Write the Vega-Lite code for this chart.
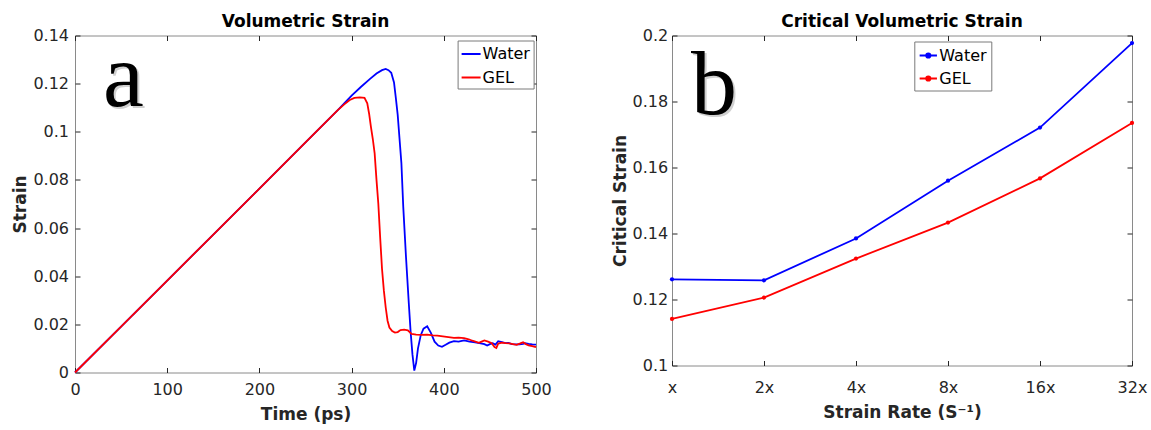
{
  "$schema": "https://vega.github.io/schema/vega-lite/v6.json",
  "background": "white",
  "padding": {"left": 11, "top": 11.5, "right": 0, "bottom": 0},
  "spacing": 58,
  "config": {
    "view": {"stroke": "#8a8a8a", "strokeWidth": 1},
    "font": "DejaVu Sans",
    "axis": {
      "grid": false, "domain": false, "ticks": true, "tickSize": -5, "tickColor": "#262626", "tickWidth": 1,
      "labelFont": "DejaVu Sans", "labelFontSize": 16, "labelColor": "#262626", "labelFlush": false, "labelOverlap": false,
      "titleFont": "DejaVu Sans", "titleFontSize": 17, "titleFontWeight": "bold", "titleColor": "#262626"
    },
    "title": {"font": "DejaVu Sans", "fontSize": 17, "fontWeight": "bold", "color": "#000000", "baseline": "alphabetic", "offset": -3, "anchor": "middle"},
    "legend": {"labelFont": "DejaVu Sans", "labelFontSize": 16, "labelColor": "#000000", "fillColor": "white", "strokeColor": "#7a7a7a", "title": null, "labelOffset": 1}
  },
  "resolve": {"scale": {"color": "independent"}, "legend": {"color": "independent"}},
  "hconcat": [
    {
      "width": 461,
      "height": 337,
      "title": "Volumetric Strain",
      "resolve": {"axis": {"x": "independent", "y": "independent"}},
      "layer": [
        {
          "data": {"values": [
            {"series": "Water", "time": 0, "strain": 0},
            {"series": "Water", "time": 50, "strain": 0.0191},
            {"series": "Water", "time": 100, "strain": 0.0382},
            {"series": "Water", "time": 150, "strain": 0.0573},
            {"series": "Water", "time": 200, "strain": 0.0764},
            {"series": "Water", "time": 250, "strain": 0.0956},
            {"series": "Water", "time": 285, "strain": 0.1090},
            {"series": "Water", "time": 292, "strain": 0.1118},
            {"series": "Water", "time": 300, "strain": 0.1150},
            {"series": "Water", "time": 310, "strain": 0.1186},
            {"series": "Water", "time": 320, "strain": 0.1220},
            {"series": "Water", "time": 327, "strain": 0.1242},
            {"series": "Water", "time": 333, "strain": 0.1256},
            {"series": "Water", "time": 337, "strain": 0.1261},
            {"series": "Water", "time": 340, "strain": 0.1256},
            {"series": "Water", "time": 343, "strain": 0.1245},
            {"series": "Water", "time": 346, "strain": 0.1205},
            {"series": "Water", "time": 348, "strain": 0.1140},
            {"series": "Water", "time": 350, "strain": 0.1070},
            {"series": "Water", "time": 352, "strain": 0.0970},
            {"series": "Water", "time": 354, "strain": 0.0870},
            {"series": "Water", "time": 356, "strain": 0.0690},
            {"series": "Water", "time": 359, "strain": 0.0480},
            {"series": "Water", "time": 362, "strain": 0.0290},
            {"series": "Water", "time": 364, "strain": 0.0170},
            {"series": "Water", "time": 366, "strain": 0.0075},
            {"series": "Water", "time": 368, "strain": 0.0008},
            {"series": "Water", "time": 370, "strain": 0.0040},
            {"series": "Water", "time": 372, "strain": 0.0100},
            {"series": "Water", "time": 375, "strain": 0.0155},
            {"series": "Water", "time": 378, "strain": 0.0182},
            {"series": "Water", "time": 382, "strain": 0.0192},
            {"series": "Water", "time": 386, "strain": 0.0165},
            {"series": "Water", "time": 390, "strain": 0.0128},
            {"series": "Water", "time": 394, "strain": 0.0112},
            {"series": "Water", "time": 398, "strain": 0.0107},
            {"series": "Water", "time": 402, "strain": 0.0115},
            {"series": "Water", "time": 406, "strain": 0.0124},
            {"series": "Water", "time": 411, "strain": 0.0130},
            {"series": "Water", "time": 416, "strain": 0.0128},
            {"series": "Water", "time": 422, "strain": 0.0133},
            {"series": "Water", "time": 428, "strain": 0.0128},
            {"series": "Water", "time": 434, "strain": 0.0125},
            {"series": "Water", "time": 440, "strain": 0.0121},
            {"series": "Water", "time": 444, "strain": 0.0118},
            {"series": "Water", "time": 447, "strain": 0.0112},
            {"series": "Water", "time": 450, "strain": 0.0118},
            {"series": "Water", "time": 453, "strain": 0.0122},
            {"series": "Water", "time": 456, "strain": 0.0116},
            {"series": "Water", "time": 459, "strain": 0.0130},
            {"series": "Water", "time": 463, "strain": 0.0126},
            {"series": "Water", "time": 467, "strain": 0.0122},
            {"series": "Water", "time": 470, "strain": 0.0123},
            {"series": "Water", "time": 474, "strain": 0.0118},
            {"series": "Water", "time": 478, "strain": 0.0117},
            {"series": "Water", "time": 482, "strain": 0.0117},
            {"series": "Water", "time": 486, "strain": 0.0119},
            {"series": "Water", "time": 488, "strain": 0.0122},
            {"series": "Water", "time": 492, "strain": 0.0119},
            {"series": "Water", "time": 496, "strain": 0.0117},
            {"series": "Water", "time": 500, "strain": 0.0116},
            {"series": "GEL", "time": 0, "strain": 0},
            {"series": "GEL", "time": 50, "strain": 0.0191},
            {"series": "GEL", "time": 100, "strain": 0.0382},
            {"series": "GEL", "time": 150, "strain": 0.0573},
            {"series": "GEL", "time": 200, "strain": 0.0764},
            {"series": "GEL", "time": 250, "strain": 0.0956},
            {"series": "GEL", "time": 285, "strain": 0.1090},
            {"series": "GEL", "time": 292, "strain": 0.1114},
            {"series": "GEL", "time": 298, "strain": 0.1132},
            {"series": "GEL", "time": 303, "strain": 0.1141},
            {"series": "GEL", "time": 309, "strain": 0.1143},
            {"series": "GEL", "time": 314, "strain": 0.1141},
            {"series": "GEL", "time": 317, "strain": 0.1118},
            {"series": "GEL", "time": 319, "strain": 0.1075},
            {"series": "GEL", "time": 321, "strain": 0.1019},
            {"series": "GEL", "time": 323, "strain": 0.0970},
            {"series": "GEL", "time": 325, "strain": 0.0910},
            {"series": "GEL", "time": 327, "strain": 0.0800},
            {"series": "GEL", "time": 329, "strain": 0.0700},
            {"series": "GEL", "time": 331, "strain": 0.0560},
            {"series": "GEL", "time": 333, "strain": 0.0430},
            {"series": "GEL", "time": 335, "strain": 0.0340},
            {"series": "GEL", "time": 337, "strain": 0.0270},
            {"series": "GEL", "time": 339, "strain": 0.0215},
            {"series": "GEL", "time": 341, "strain": 0.0187},
            {"series": "GEL", "time": 344, "strain": 0.0172},
            {"series": "GEL", "time": 347, "strain": 0.0166},
            {"series": "GEL", "time": 350, "strain": 0.0168},
            {"series": "GEL", "time": 353, "strain": 0.0176},
            {"series": "GEL", "time": 357, "strain": 0.0178},
            {"series": "GEL", "time": 361, "strain": 0.0175},
            {"series": "GEL", "time": 365, "strain": 0.0160},
            {"series": "GEL", "time": 370, "strain": 0.0157},
            {"series": "GEL", "time": 376, "strain": 0.0156},
            {"series": "GEL", "time": 382, "strain": 0.0157},
            {"series": "GEL", "time": 388, "strain": 0.0154},
            {"series": "GEL", "time": 393, "strain": 0.0153},
            {"series": "GEL", "time": 399, "strain": 0.0150},
            {"series": "GEL", "time": 405, "strain": 0.0147},
            {"series": "GEL", "time": 411, "strain": 0.0144},
            {"series": "GEL", "time": 416, "strain": 0.0145},
            {"series": "GEL", "time": 422, "strain": 0.0143},
            {"series": "GEL", "time": 427, "strain": 0.0138},
            {"series": "GEL", "time": 431, "strain": 0.0132},
            {"series": "GEL", "time": 435, "strain": 0.0127},
            {"series": "GEL", "time": 438, "strain": 0.0123},
            {"series": "GEL", "time": 441, "strain": 0.0128},
            {"series": "GEL", "time": 444, "strain": 0.0133},
            {"series": "GEL", "time": 448, "strain": 0.0128},
            {"series": "GEL", "time": 452, "strain": 0.0122},
            {"series": "GEL", "time": 455, "strain": 0.0106},
            {"series": "GEL", "time": 457, "strain": 0.0102},
            {"series": "GEL", "time": 459, "strain": 0.0120},
            {"series": "GEL", "time": 463, "strain": 0.0124},
            {"series": "GEL", "time": 467, "strain": 0.0122},
            {"series": "GEL", "time": 471, "strain": 0.0121},
            {"series": "GEL", "time": 475, "strain": 0.0118},
            {"series": "GEL", "time": 479, "strain": 0.0115},
            {"series": "GEL", "time": 483, "strain": 0.0121},
            {"series": "GEL", "time": 486, "strain": 0.0126},
            {"series": "GEL", "time": 489, "strain": 0.0118},
            {"series": "GEL", "time": 492, "strain": 0.0113},
            {"series": "GEL", "time": 496, "strain": 0.0110},
            {"series": "GEL", "time": 500, "strain": 0.0105}
          ]},
          "mark": {"type": "line", "strokeWidth": 1.8},
          "encoding": {
            "x": {"field": "time", "type": "quantitative", "scale": {"domain": [0, 500], "nice": false},
                  "axis": {"orient": "bottom", "values": [0, 100, 200, 300, 400, 500], "title": "Time (ps)", "labelPadding": 14, "titlePadding": 9}},
            "y": {"field": "strain", "type": "quantitative", "scale": {"domain": [0, 0.14], "nice": false},
                  "axis": {"orient": "left", "values": [0, 0.02, 0.04, 0.06, 0.08, 0.1, 0.12, 0.14], "format": "~g", "title": "Strain", "labelPadding": 11.5, "titlePadding": 3}},
            "color": {"field": "series", "type": "nominal", "sort": ["Water", "GEL"],
                      "scale": {"domain": ["Water", "GEL"], "range": ["#0000ff", "#ff0000"]},
                      "legend": {"orient": "none", "legendX": 382.6, "legendY": 5, "symbolType": "stroke", "symbolSize": 361, "symbolStrokeWidth": 2, "padding": 3, "rowPadding": 4.5}}
          }
        },
        {
          "data": {"values": [{"time": 52.4, "strain": 0.1109, "label": "a"}]},
          "mark": {"type": "text", "font": "Liberation Serif", "fontSize": 92, "align": "center", "baseline": "alphabetic", "color": "#999999", "opacity": 0.45, "dx": 2, "dy": 2},
          "encoding": {
            "x": {"field": "time", "type": "quantitative", "axis": {"orient": "top", "labels": false, "title": null, "values": [0, 100, 200, 300, 400, 500]}},
            "y": {"field": "strain", "type": "quantitative", "axis": {"orient": "right", "labels": false, "title": null, "values": [0, 0.02, 0.04, 0.06, 0.08, 0.1, 0.12, 0.14]}},
            "text": {"field": "label"}
          }
        },
        {
          "data": {"values": [{"time": 52.4, "strain": 0.1109, "label": "a"}]},
          "mark": {"type": "text", "font": "Liberation Serif", "fontSize": 92, "align": "center", "baseline": "alphabetic", "color": "#000000"},
          "encoding": {
            "x": {"field": "time", "type": "quantitative", "axis": null},
            "y": {"field": "strain", "type": "quantitative", "axis": null},
            "text": {"field": "label"}
          }
        }
      ]
    },
    {
      "width": 460,
      "height": 330,
      "title": "Critical Volumetric Strain",
      "resolve": {"axis": {"x": "independent", "y": "independent"}},
      "layer": [
        {
          "data": {"values": [
            {"series": "Water", "rate": 1, "strain": 0.1261},
            {"series": "Water", "rate": 2, "strain": 0.1258},
            {"series": "Water", "rate": 4, "strain": 0.1385},
            {"series": "Water", "rate": 8, "strain": 0.1560},
            {"series": "Water", "rate": 16, "strain": 0.1721},
            {"series": "Water", "rate": 32, "strain": 0.1977},
            {"series": "GEL", "rate": 1, "strain": 0.1141},
            {"series": "GEL", "rate": 2, "strain": 0.1206},
            {"series": "GEL", "rate": 4, "strain": 0.1324},
            {"series": "GEL", "rate": 8, "strain": 0.1433},
            {"series": "GEL", "rate": 16, "strain": 0.1567},
            {"series": "GEL", "rate": 32, "strain": 0.1735}
          ]},
          "mark": {"type": "line", "strokeWidth": 1.8, "point": {"filled": true, "size": 18}},
          "encoding": {
            "x": {"field": "rate", "type": "quantitative", "scale": {"type": "log", "base": 2, "domain": [1, 32], "nice": false},
                  "axis": {"orient": "bottom", "values": [1, 2, 4, 8, 16, 32], "labelExpr": "datum.value === 1 ? 'x' : format(datum.value, 'd') + 'x'", "title": "Strain Rate (S⁻¹)", "labelPadding": 19, "titlePadding": 9}},
            "y": {"field": "strain", "type": "quantitative", "scale": {"domain": [0.1, 0.2], "nice": false},
                  "axis": {"orient": "left", "values": [0.1, 0.12, 0.14, 0.16, 0.18, 0.2], "format": "~g", "title": "Critical Strain", "labelPadding": 9.3, "titlePadding": 3}},
            "color": {"field": "series", "type": "nominal", "sort": ["Water", "GEL"],
                      "scale": {"domain": ["Water", "GEL"], "range": ["#0000ff", "#ff0000"]},
                      "legend": {"orient": "none", "legendX": 242.3, "legendY": 6, "symbolType": "M-1,0L1,0M-0.24,0A0.24,0.24 0 1,0 0.24,0A0.24,0.24 0 1,0 -0.24,0Z", "symbolSize": 300, "symbolStrokeWidth": 2, "padding": 4, "rowPadding": 5,
                                 "encode": {"symbols": {"update": {"fill": {"signal": "datum.value === 'Water' ? '#0000ff' : '#ff0000'"}, "stroke": {"signal": "datum.value === 'Water' ? '#0000ff' : '#ff0000'"}, "opacity": {"value": 1}}}}}}
          }
        },
        {
          "data": {"values": [{"rate": 1.372, "strain": 0.1763, "label": "b"}]},
          "mark": {"type": "text", "font": "Liberation Serif", "fontSize": 92, "align": "center", "baseline": "alphabetic", "color": "#999999", "opacity": 0.45, "dx": 2, "dy": 2},
          "encoding": {
            "x": {"field": "rate", "type": "quantitative", "axis": {"orient": "top", "labels": false, "title": null, "values": [1, 2, 4, 8, 16, 32]}},
            "y": {"field": "strain", "type": "quantitative", "axis": {"orient": "right", "labels": false, "title": null, "values": [0.1, 0.12, 0.14, 0.16, 0.18, 0.2]}},
            "text": {"field": "label"}
          }
        },
        {
          "data": {"values": [{"rate": 1.372, "strain": 0.1763, "label": "b"}]},
          "mark": {"type": "text", "font": "Liberation Serif", "fontSize": 92, "align": "center", "baseline": "alphabetic", "color": "#000000"},
          "encoding": {
            "x": {"field": "rate", "type": "quantitative", "axis": null},
            "y": {"field": "strain", "type": "quantitative", "axis": null},
            "text": {"field": "label"}
          }
        }
      ]
    }
  ]
}
